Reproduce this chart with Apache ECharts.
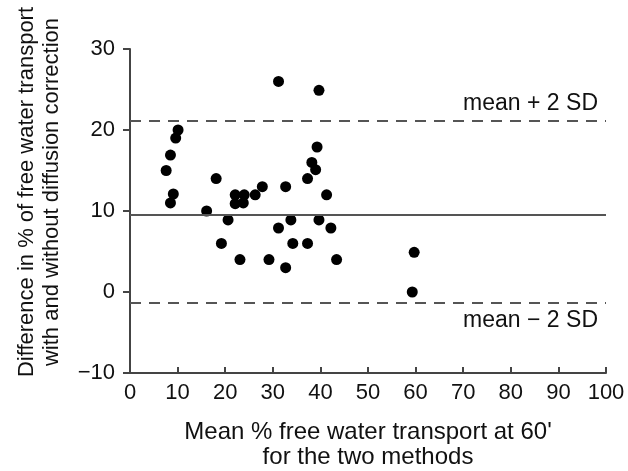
<!DOCTYPE html>
<html>
<head>
<meta charset="utf-8">
<script src="https://cdn.jsdelivr.net/npm/echarts@6/dist/echarts.min.js"></script>
<style>
  html, body { margin: 0; padding: 0; background: #fff; }
  #chart { width: 628px; height: 471px; }
</style>
</head>
<body>
<div id="chart"></div>
<script>
// mean % free water transport (x) vs difference with/without correction (y)
const meanX = [
  31.2, 39.7, 10.1, 9.6, 8.5, 7.6, 9.1, 8.5, 18.1, 16.1,
  22.1, 22.1, 24.0, 23.8, 26.3, 27.8, 32.7, 37.3, 38.2, 39.0,
  39.3, 41.3, 20.6, 19.2, 23.1, 29.2, 31.2, 32.7, 33.8, 34.2,
  37.3, 39.7, 42.2, 43.4, 59.7, 59.3
]
const diffY = [
  26.0, 24.9, 20.0, 19.0, 16.9, 15.0, 12.1, 11.0, 14.0, 10.0,
  12.0, 10.9, 12.0, 11.0, 12.0, 13.0, 13.0, 14.0, 16.0, 15.1,
  17.9, 12.0, 8.9, 6.0, 4.0, 4.0, 7.9, 3.0, 8.9, 6.0,
  6.0, 8.9, 7.9, 4.0, 4.9, 0.0
]

const MEAN = 9.5
const UPPER = 21.2
const LOWER = -1.3

const font = 'Liberation Sans, Arial, sans-serif'
const ink = '#111'
const axisCol = '#444'

const chart = echarts.init(document.getElementById('chart'), null, { renderer: 'canvas' })

chart.setOption({
  backgroundColor: '#fff',
  animation: false,
  grid: { left: 130, right: 22, top: 49, bottom: 98, outerBoundsMode: 'none', containLabel: false },
  xAxis: {
    type: 'value', min: 0, max: 100, interval: 10,
    name: "Mean % free water transport at 60'\nfor the two methods",
    nameLocation: 'middle', nameGap: 47, nameMoveOverlap: false,
    nameTextStyle: { color: ink, fontSize: 24, fontFamily: font, lineHeight: 25 },
    axisLine: { onZero: false, lineStyle: { color: axisCol, width: 2 } },
    axisTick: { inside: true, length: 6, lineStyle: { color: axisCol, width: 2 } },
    axisLabel: { color: ink, fontSize: 22, fontFamily: font, margin: 9 },
    splitLine: { show: false },
  },
  yAxis: {
    type: 'value', min: -10, max: 30, interval: 10,
    name: 'Difference in % of free water transport\nwith and without diffusion correction',
    nameLocation: 'middle', nameGap: 66, nameRotate: 90,
    nameTextStyle: { color: ink, fontSize: 22, fontFamily: font, lineHeight: 25, padding: [0, 0, 0, 38] },
    axisLine: { show: true, lineStyle: { color: axisCol, width: 2 } },
    axisTick: { show: true, length: 7, lineStyle: { color: axisCol, width: 2 } },
    axisLabel: {
      color: ink, fontSize: 22, fontFamily: font, margin: 15,
      formatter: (v) => (v < 0 ? '\u2212' + Math.abs(v) : String(v)),
    },
    splitLine: { show: false },
  },
  series: [{
    type: 'scatter',
    symbolSize: 11,
    itemStyle: { color: '#000', opacity: 1 },
    data: meanX.map((x, i) => [x, diffY[i]]),
    markLine: {
      silent: true, symbol: 'none',
      data: [
        { yAxis: MEAN, lineStyle: { color: '#555', type: 'solid', width: 2 }, label: { show: false } },
        {
          yAxis: UPPER,
          lineStyle: { color: '#555', type: [11, 8], width: 2 },
          label: { show: true, formatter: 'mean + 2 SD', position: 'insideEndTop', distance: [8, 5],
                   color: ink, fontSize: 23, fontFamily: font },
        },
        {
          yAxis: LOWER,
          lineStyle: { color: '#555', type: [11, 8], width: 2 },
          label: { show: true, formatter: 'mean \u2212 2 SD', position: 'insideEndBottom', distance: [8, 7],
                   color: ink, fontSize: 23, fontFamily: font },
        },
      ],
    },
  }],
})
</script>
</body>
</html>
